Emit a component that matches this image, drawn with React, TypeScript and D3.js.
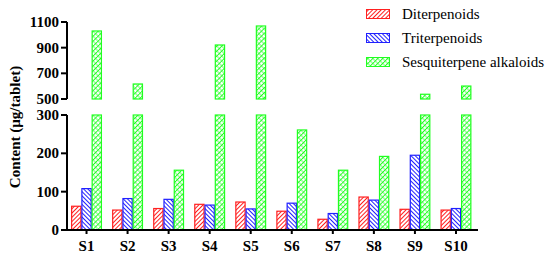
import React from 'react'
import * as d3 from 'd3'

const samples = ['S1', 'S2', 'S3', 'S4', 'S5', 'S6', 'S7', 'S8', 'S9', 'S10']
const seriesNames = ['Diterpenoids', 'Triterpenoids', 'Sesquiterpene alkaloids']
const diterpenoids = [62, 52, 56, 67, 73, 49, 28, 86, 54, 52]
const triterpenoids = [108, 82, 80, 65, 55, 70, 43, 78, 195, 56]
const sesquiterpene = [1030, 617, 156, 921, 1069, 261, 156, 192, 537, 601]
const lowTicks = [0, 100, 200, 300]
const highTicks = [500, 700, 900, 1100]

const colors = ['#ff2020', '#2020ff', '#20ff20']
const font = '"Liberation Serif", "Times New Roman", serif'

const App = () => {
  const width = 550
  const height = 261
  const axisX = 67
  const baseY = 230

  const yLow = d3.scaleLinear().domain([0, 300]).range([baseY, 115])
  const yHigh = d3.scaleLinear().domain([500, 1100]).range([99, 22])

  const x = d3.scaleBand().domain(samples).range([66, 476.5]).paddingInner(0.25).paddingOuter(0.125)
  const xs = d3.scaleBand().domain(seriesNames).range([0, x.bandwidth()])

  const allSeries = [diterpenoids, triterpenoids, sesquiterpene]

  const bars: JSX.Element[] = []
  allSeries.forEach((vals, si) => {
    vals.forEach((v, i) => {
      const bx = (x(samples[i]) || 0) + (xs(seriesNames[si]) || 0)
      const bw = xs.bandwidth() - 1
      const low = Math.min(v, 300)
      bars.push(
        <rect key={`l${si}-${i}`} x={bx + 0.5} y={yLow(low)} width={bw} height={baseY - yLow(low)}
          fill={`url(#pat${si})`} stroke={colors[si]} strokeWidth={1.2} />
      )
      if (v > 500) {
        bars.push(
          <rect key={`h${si}-${i}`} x={bx + 0.5} y={yHigh(v)} width={bw} height={yHigh(500) - yHigh(v)}
            fill={`url(#pat${si})`} stroke={colors[si]} strokeWidth={1.2} />
        )
      }
    })
  })

  return (
    <svg width={width} height={height} style={{ position: 'absolute', left: 0, top: 0, background: '#fff' }}>
      <defs>
        <pattern id="pat0" width="3" height="3" patternUnits="userSpaceOnUse" patternTransform="rotate(45)">
          <rect width="3" height="3" fill="#fff" />
          <line x1="0" y1="0" x2="0" y2="3" stroke={colors[0]} strokeWidth="2" />
        </pattern>
        <pattern id="pat1" width="3" height="3" patternUnits="userSpaceOnUse" patternTransform="rotate(-45)">
          <rect width="3" height="3" fill="#fff" />
          <line x1="0" y1="0" x2="0" y2="3" stroke={colors[1]} strokeWidth="2" />
        </pattern>
        <pattern id="pat2" width="3.5" height="3.5" patternUnits="userSpaceOnUse" patternTransform="rotate(45)">
          <rect width="3.5" height="3.5" fill="#fff" />
          <line x1="0" y1="0" x2="0" y2="3.5" stroke={colors[2]} strokeWidth="1.8" />
          <line x1="0" y1="1.75" x2="3.5" y2="1.75" stroke={colors[2]} strokeWidth="0.7" />
        </pattern>
      </defs>

      {bars}

      {/* x axis */}
      <line x1={axisX - 1} x2={478} y1={baseY} y2={baseY} stroke="#000" strokeWidth={2} />
      {samples.map(s => {
        const cx = (x(s) || 0) + x.bandwidth() / 2
        return (
          <g key={s}>
            <line x1={cx} x2={cx} y1={baseY} y2={baseY + 4} stroke="#000" strokeWidth={2} />
            <text x={cx} y={251} textAnchor="middle" fontFamily={font} fontWeight="bold" fontSize={15}>{s}</text>
          </g>
        )
      })}

      {/* y axis lower segment */}
      <line x1={axisX} x2={axisX} y1={yLow(300)} y2={baseY} stroke="#000" strokeWidth={2} />
      {lowTicks.map(t => (
        <g key={t}>
          <line x1={axisX - 6} x2={axisX} y1={yLow(t)} y2={yLow(t)} stroke="#000" strokeWidth={2} />
          <text x={axisX - 8} y={yLow(t)} dy="0.34em" textAnchor="end" fontFamily={font} fontWeight="bold" fontSize={15}>{t}</text>
        </g>
      ))}

      {/* y axis upper segment */}
      <line x1={axisX} x2={axisX} y1={yHigh(1100)} y2={yHigh(500)} stroke="#000" strokeWidth={2} />
      {highTicks.map(t => (
        <g key={t}>
          <line x1={axisX - 6} x2={axisX} y1={yHigh(t)} y2={yHigh(t)} stroke="#000" strokeWidth={2} />
          <text x={axisX - 8} y={yHigh(t)} dy="0.34em" textAnchor="end" fontFamily={font} fontWeight="bold" fontSize={15}>{t}</text>
        </g>
      ))}

      <text transform="translate(20,127) rotate(-90)" textAnchor="middle" fontFamily={font} fontWeight="bold" fontSize={15}>
        Content (µg/tablet)
      </text>

      {/* legend */}
      {seriesNames.map((n, i) => {
        const ly = 14 + i * 24
        return (
          <g key={n}>
            <rect x={366.5} y={ly - 4.5} width={23} height={9} fill={`url(#pat${i})`} stroke={colors[i]} strokeWidth={1} />
            <text x={402} y={ly} dy="0.35em" fontFamily={font} fontSize={15}>{n}</text>
          </g>
        )
      })}
    </svg>
  )
}

export default App
